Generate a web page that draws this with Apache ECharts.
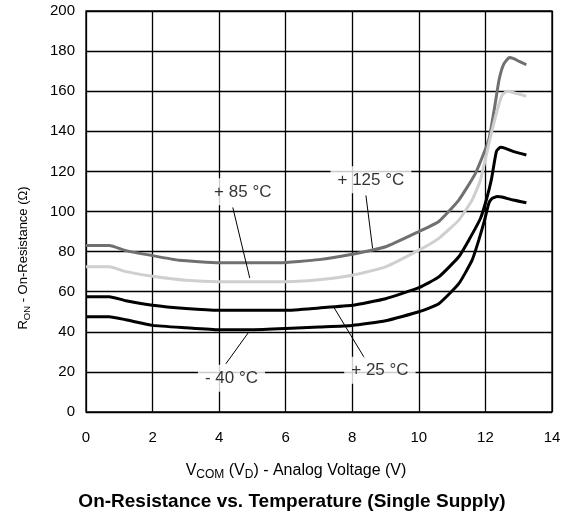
<!DOCTYPE html>
<html>
<head>
<meta charset="utf-8">
<script src="https://cdn.jsdelivr.net/npm/echarts@6/dist/echarts.min.js"></script>
<style>
html,body{margin:0;padding:0;background:#fff;}
#c{width:570px;height:515px;}
</style>
</head>
<body>
<div id="c"></div>
<script>
// ---- Data (V, Ω) ----
const xTicks = [0, 2, 4, 6, 8, 10, 12, 14];
const yTicks = [0, 20, 40, 60, 80, 100, 120, 140, 160, 180, 200];

const t125 = [[0,83],[0.7,83],[1.2,80.5],[2,78],[2.8,75.7],[4,74.5],[5,74.5],[5.8,74.5],[7,76],[8,78.7],[9,82.4],[10,90],[10.6,95],[11.2,105.7],[11.7,119],[12.1,135.7],[12.28,152.4],[12.41,165.7],[12.55,173.5],[12.72,176.8],[12.85,176.2],[13.0,175],[13.23,173.2]];
const t85 = [[0,72.5],[0.7,72.5],[1.2,70],[2,67.7],[3,65.7],[4,65],[5,65],[5.8,65],[7,66],[8,68.2],[9,72.4],[10,80.7],[10.6,86.6],[11.2,95.7],[11.6,105.7],[11.85,115.7],[12.13,135.7],[12.33,149],[12.5,158],[12.65,160],[12.8,159.5],[13.23,157.5]];
const t25 = [[0,57.5],[0.7,57.5],[1.2,55.5],[2,53.2],[3,51.6],[4,50.7],[5,50.7],[6,50.7],[7,51.9],[8,53.2],[9,56.5],[10,62],[10.6,67.4],[11.2,77.4],[11.5,85.7],[11.85,96.5],[12.03,106],[12.18,116],[12.33,130],[12.45,132],[12.6,131.5],[12.83,130],[13.23,128.2]];
const tm40 = [[0,47.5],[0.7,47.5],[1.2,46],[2,43.2],[3,42],[4,41],[5,41],[6,41.6],[7,42.4],[8,43.2],[9,45.5],[10,50],[10.6,54],[11.2,64],[11.6,75.7],[11.8,85.7],[11.98,96],[12.1,104],[12.2,106.5],[12.35,107.5],[12.5,107.2],[12.83,105.7],[13.23,104.4]];

const labelTexts = ['+ 125 °C', '+ 85 °C', '+ 25 °C', '- 40 °C'];
const labelAnchors = [[8.56,115.8],[4.71,109.8],[8.83,20.8],[4.37,16.8]];
const leaderLines = [
  [[8.41,108],[8.61,81.6]],
  [[4.41,102],[4.92,66.8]],
  [[8.38,26.6],[7.45,52.1]],
  [[4.2,24],[4.87,39.4]]
];

const chart = echarts.init(document.getElementById('c'), null, {renderer:'canvas'});
const FONT = '"Liberation Sans", Arial, Helvetica, sans-serif';

function lineSeries(name, data, color) {
  return {
    name, type:'line', data, showSymbol:false, smooth:0.15,
    lineStyle:{color, width:3}, itemStyle:{color}, z:3, silent:true
  };
}

const option = {
  animation:false,
  backgroundColor:'#fff',
  grid:{left:86, right:18, top:11, bottom:103, show:true, borderColor:'#000', borderWidth:1.3},
  xAxis:{
    type:'value', min:0, max:14, interval:2,
    axisLine:{show:false}, axisTick:{show:false},
    splitLine:{show:true, lineStyle:{color:'#000', width:1.3}},
    axisLabel:{fontFamily:FONT, fontSize:15, color:'#000', margin:18,
      formatter:v => xTicks.includes(v) ? String(v) : ''}
  },
  yAxis:{
    type:'value', min:0, max:200, interval:20,
    axisLine:{show:false}, axisTick:{show:false},
    splitLine:{show:true, lineStyle:{color:'#000', width:1.3}},
    axisLabel:{fontFamily:FONT, fontSize:15, color:'#000', margin:11,
      formatter:v => yTicks.includes(v) ? String(v) : ''}
  },
  series:[
    lineSeries('+125 °C', t125, '#707070'),
    lineSeries('+85 °C', t85, '#cfcfcf'),
    lineSeries('+25 °C', t25, '#000'),
    lineSeries('-40 °C', tm40, '#000'),
    {
      type:'lines', coordinateSystem:'cartesian2d', polyline:false, silent:true, z:4,
      lineStyle:{color:'#000', width:1, opacity:1},
      data: leaderLines.map(c => ({coords:c}))
    },
    {
      type:'scatter', silent:true, z:5, symbolSize:1,
      itemStyle:{color:'rgba(0,0,0,0)'},
      data: labelAnchors.map((p,i) => ({value:p, name:labelTexts[i]})),
      label:{show:true, position:'inside', formatter:p => p.name,
        fontFamily:FONT, fontSize:17, color:'#000',
        backgroundColor:'#fff', padding:[5,7,5,7]}
    }
  ],
  graphic:[
    {type:'text', x:23, y:258, rotation:Math.PI/2, z:10,
      style:{text:'{n|R}{s|ON}{n| - On-Resistance (Ω)}', textAlign:'center', textVerticalAlign:'middle',
        font:'13px ' + FONT, fill:'#000',
        rich:{n:{fontSize:13, lineHeight:18, fontFamily:FONT, fill:'#000'},
              s:{fontSize:9.5, lineHeight:9, verticalAlign:'bottom', fontFamily:FONT, fill:'#000'}}}},
    {type:'text', x:296, y:471, z:10,
      style:{text:'{n|V}{s|COM}{n| (V}{s|D}{n|) - Analog Voltage (V)}', textAlign:'center', textVerticalAlign:'middle',
        font:'16px ' + FONT, fill:'#000',
        rich:{n:{fontSize:16, lineHeight:20, fontFamily:FONT, fill:'#000'},
              s:{fontSize:12, lineHeight:10, verticalAlign:'bottom', fontFamily:FONT, fill:'#000'}}}},
    {type:'text', x:292, y:502, z:10,
      style:{text:'On-Resistance vs. Temperature (Single Supply)', textAlign:'center', textVerticalAlign:'middle',
        font:'bold 19px ' + FONT, fill:'#000'}}
  ]
};
chart.setOption(option);
</script>
</body>
</html>
